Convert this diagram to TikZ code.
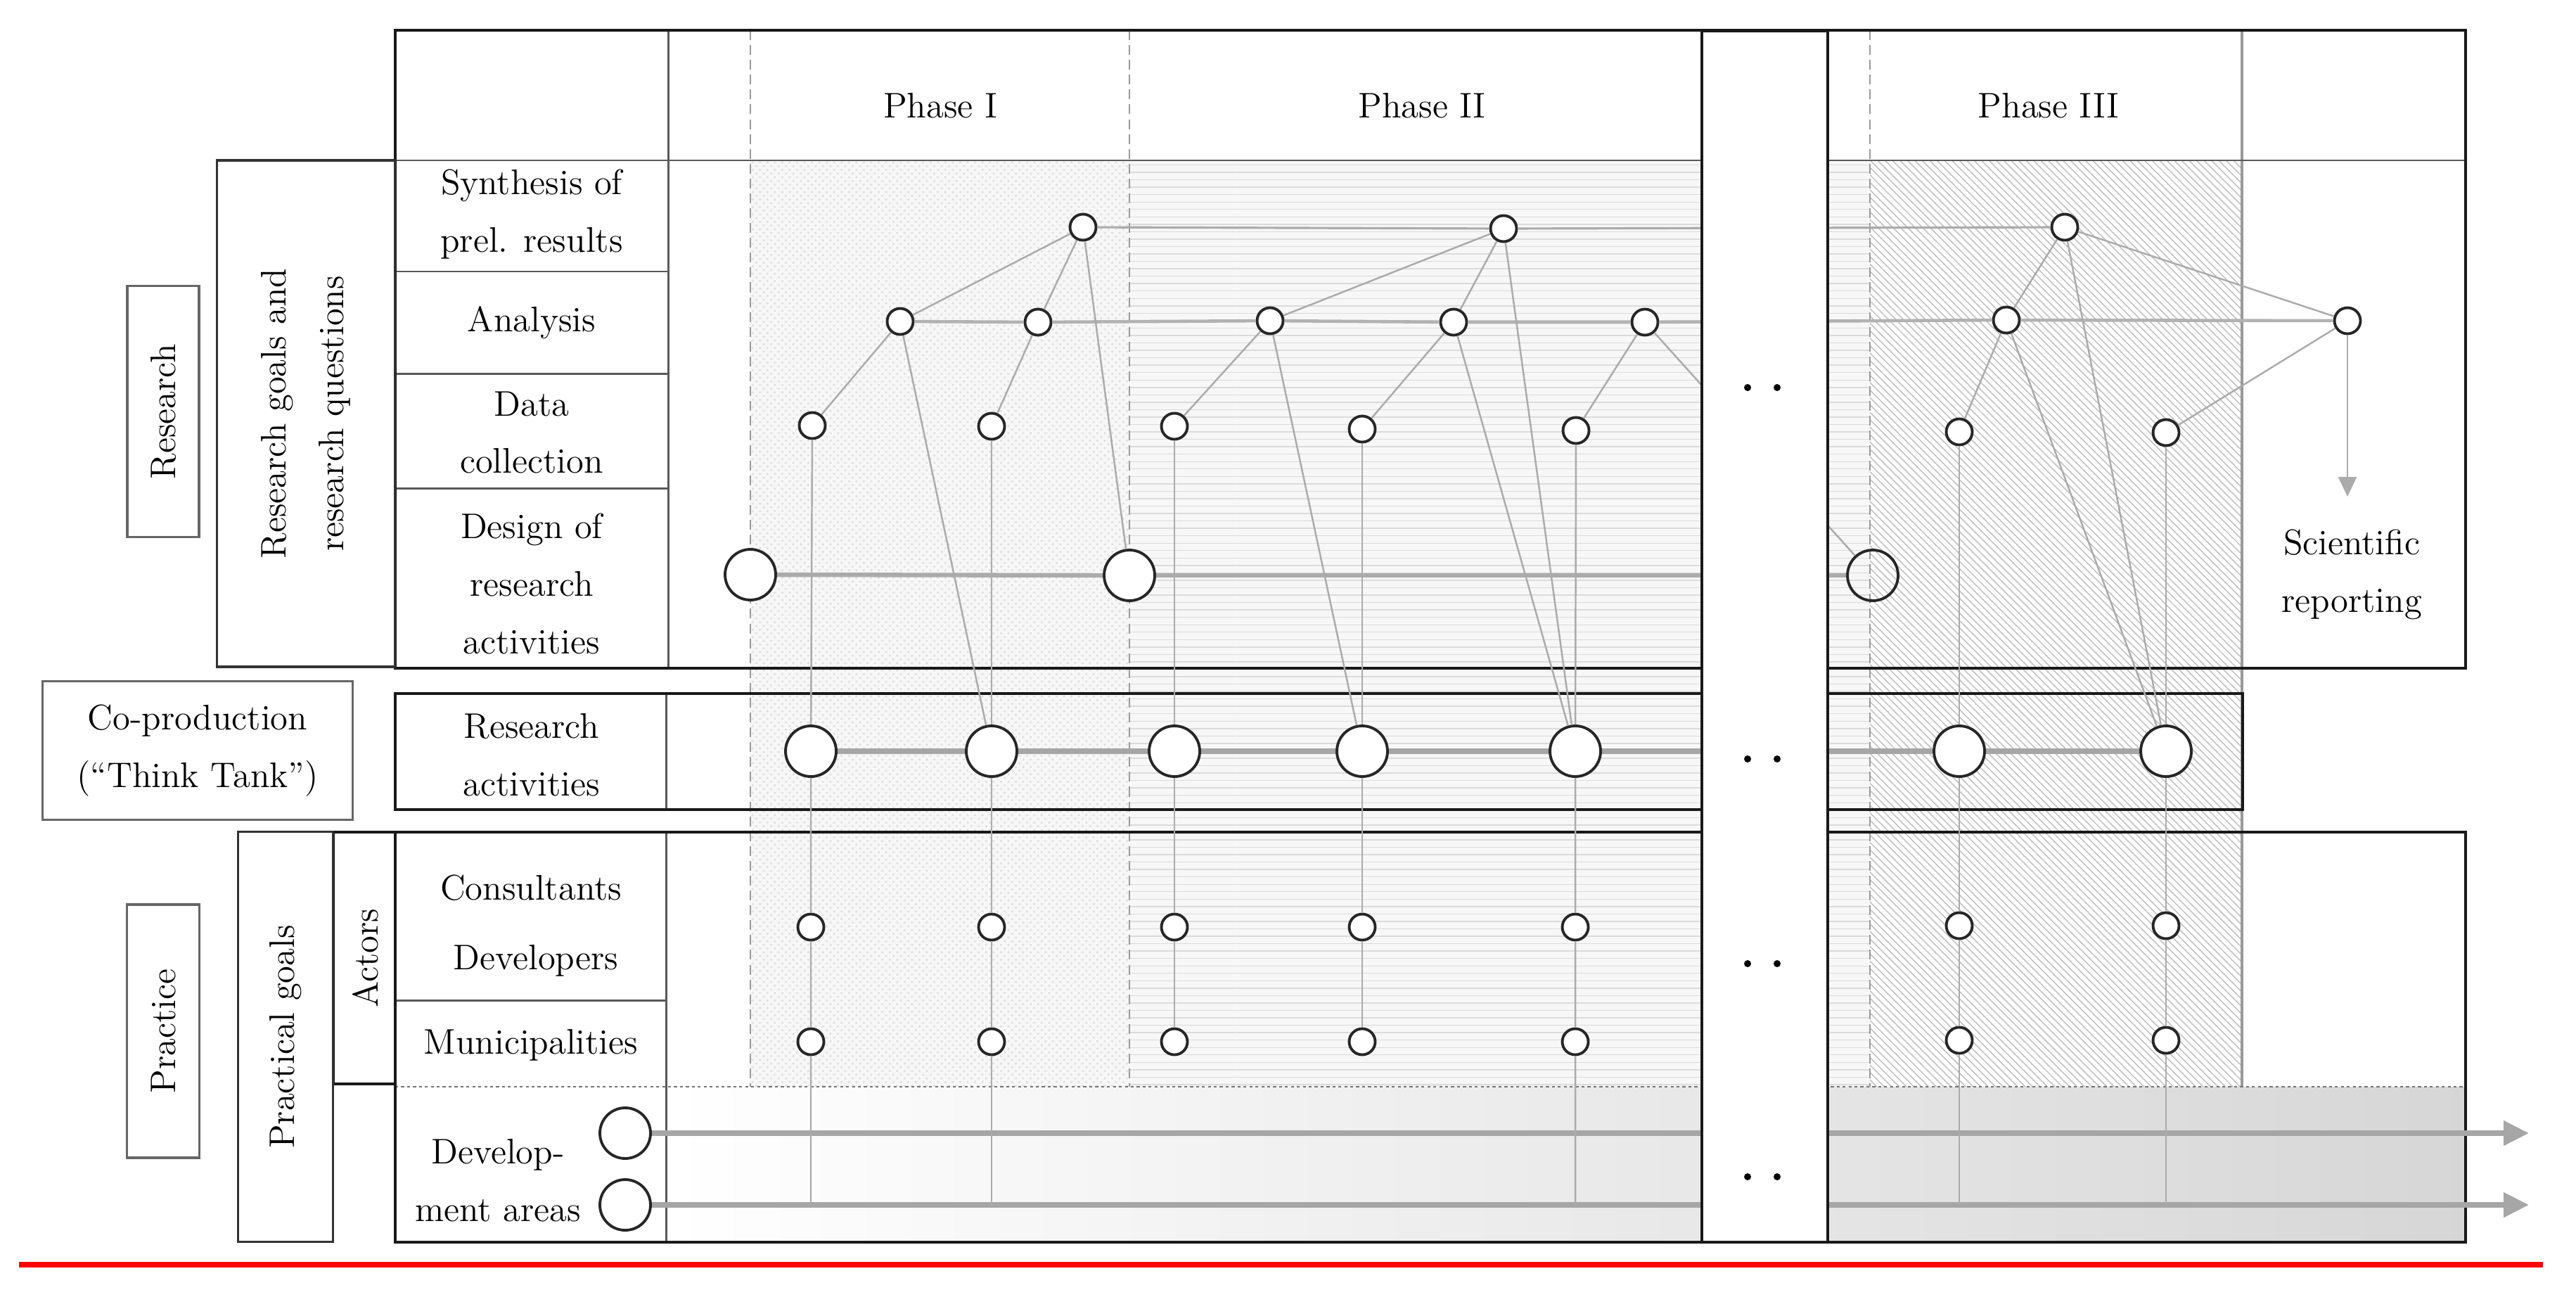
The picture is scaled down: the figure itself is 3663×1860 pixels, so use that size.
\documentclass[tikz,border=0pt]{standalone}
\usetikzlibrary{patterns,arrows.meta}

\begin{document}
\begin{tikzpicture}[x=0.1mm,y=-0.1mm,
    txt/.style={align=center,font=\fontsize{14.4}{23.3}\selectfont},
    box/.style={txt,draw=black!60,line width=0.9pt,inner sep=0pt},
    frame/.style={draw=black!90,line width=1.15pt},
    cell/.style={draw=black!65,line width=0.85pt},
    phase/.style={draw=black!40,line width=0.8pt,dash pattern=on 4pt off 2pt},
    sml/.style={shape=circle,draw=black!85,line width=1.1pt,fill=white,minimum size=3.7mm,inner sep=0pt},
    big/.style={shape=circle,draw=black!85,line width=1.1pt,fill=white,minimum size=7.2mm,inner sep=0pt},
    dot/.style={shape=circle,fill=black,minimum size=1mm,inner sep=0pt},
    lnk/.style={draw=black!33,line width=0.7pt},
    flow/.style={draw=black!35,line width=2.2pt}]

    \useasboundingbox (0,0) rectangle (3663,1860);

    %fondi delle fasi
    \fill[black!3] (1067,228) rectangle (2659,1545);
    \path[pattern=crosshatch dots,pattern color=black!13] (1067,228) rectangle (1606,1545);
    \path[pattern=horizontal lines,pattern color=black!14] (1606,228) rectangle (2659,1545);
    \path[pattern=north west lines,pattern color=black!26] (2659,228) rectangle (3188,1545);
    \shade[left color=white,right color=black!16] (950,1545) rectangle (3506,1766);

    \draw[phase] (1067,43) -- (1067,1545);
    \draw[phase] (1606,43) -- (1606,1545);
    \draw[phase] (2659,43) -- (2659,1545);
    \draw[draw=black!40,line width=0.9pt] (3188,43) -- (3188,1545);

    %tabella
    \draw[cell] (562,228) -- (3506,228);
    \draw[cell] (950,43) -- (950,950);
    \draw[cell] (562,386) -- (950,386);
    \draw[cell] (562,531) -- (950,531);
    \draw[cell] (562,694) -- (950,694);
    \draw[cell] (947,986) -- (947,1151);
    \draw[cell] (947,1183) -- (947,1766);
    \draw[cell] (562,1422) -- (947,1422);
    \draw[draw=black!55,line width=0.8pt,dash pattern=on 1.2pt off 1.2pt] (562,1545) -- (3506,1545);
    \draw[frame] (562,43) rectangle (3506,950);
    \draw[frame] (562,986) rectangle (3189,1151);
    \draw[frame] (562,1183) rectangle (3506,1766);
    \draw[frame] (474,1183) rectangle (562,1541);

    \node[box,rotate=90,minimum width=3.57cm,minimum height=1.02cm] (research) at (232,585) {Research};
    \node[box,rotate=90,draw=black!80,line width=1.1pt,minimum width=7.2cm,minimum height=2.53cm] (goals) at (435,588) {Research goals and\\research questions};
    \node[box,minimum width=4.41cm,minimum height=1.97cm] (coprod) at (281,1067) {Co-production\\(\textquotedblleft Think Tank\textquotedblright)};
    \node[box,rotate=90,minimum width=3.6cm,minimum height=1.03cm] (practice) at (232,1466) {Practice};
    \node[box,rotate=90,draw=black!80,line width=1.1pt,minimum width=5.83cm,minimum height=1.35cm] (pgoals) at (406,1474) {Practical goals};
    \node[txt,rotate=90] (actors) at (520,1362) {Actors};

    \node[txt] (ph1) at (1337,150) {Phase I};
    \node[txt] (ph2) at (2022,150) {Phase II};
    \node[txt] (ph3) at (2913,150) {Phase III};
    \node[txt] (syn) at (756,305) {Synthesis of\\prel. results};
    \node[txt] (ana) at (756,459) {Analysis};
    \node[txt] (dat) at (756,615) {Data\\collection};
    \node[txt] (des) at (756,830) {Design of\\research\\activities};
    \node[txt] (ract) at (756,1073) {Research\\activities};
    \node[txt] (cons) at (755,1262) {Consultants};
    \node[txt] (devs) at (762,1366) {Developers};
    \node[txt] (muni) at (755,1486) {Municipalities};
    \node[txt] (darea) at (708,1678) {Develop-\\ment areas};
    \node[txt] (sci) at (3344,817) {Scientific\\reporting};

    %nodi
    \node[sml] (s1) at (1540,323) {};
    \node[sml] (s2) at (2138,325) {};
    \node[sml] (s3) at (2936,323) {};

    \node[sml] (a1) at (1280,457) {};
    \node[sml] (a2) at (1476,458) {};
    \node[sml] (a3) at (1806,456) {};
    \node[sml] (a4) at (2067,458) {};
    \node[sml] (a5) at (2339,458) {};
    \node[sml] (a6) at (2853,455) {};
    \node[sml] (a7) at (3338,456) {};

    \node[sml] (d1) at (1155,605) {};
    \node[sml] (d2) at (1410,606) {};
    \node[sml] (d3) at (1670,606) {};
    \node[sml] (d4) at (1937,610) {};
    \node[sml] (d5) at (2241,612) {};
    \node[sml] (d6) at (2786,614) {};
    \node[sml] (d7) at (3080,615) {};

    \node[big] (g1) at (1067,817) {};
    \node[big] (g2) at (1606,818) {};
    \node[big,fill=none] (g3) at (2663,818) {};

    \node[big] (r1) at (1153,1068) {};
    \node[big] (r2) at (1410,1068) {};
    \node[big] (r3) at (1670,1068) {};
    \node[big] (r4) at (1937,1068) {};
    \node[big] (r5) at (2240,1068) {};
    \node[big] (r6) at (2786,1068) {};
    \node[big] (r7) at (3080,1068) {};

    \node[sml] (c1) at (1153,1318) {};
    \node[sml] (c2) at (1410,1318) {};
    \node[sml] (c3) at (1670,1318) {};
    \node[sml] (c4) at (1937,1318) {};
    \node[sml] (c5) at (2240,1318) {};
    \node[sml] (c6) at (2786,1316) {};
    \node[sml] (c7) at (3080,1316) {};

    \node[sml] (m1) at (1153,1481) {};
    \node[sml] (m2) at (1410,1481) {};
    \node[sml] (m3) at (1670,1481) {};
    \node[sml] (m4) at (1937,1481) {};
    \node[sml] (m5) at (2240,1481) {};
    \node[sml] (m6) at (2786,1479) {};
    \node[sml] (m7) at (3080,1479) {};

    \node[big] (e1) at (889,1611) {};
    \node[big] (e2) at (889,1713) {};

    \coordinate (b1) at (1153,1713);
    \coordinate (b2) at (1410,1713);
    \coordinate (b5) at (2240,1713);
    \coordinate (b6) at (2786,1713);
    \coordinate (b7) at (3080,1713);
    \coordinate (t1) at (3596,1611);
    \coordinate (t2) at (3596,1713);
    \coordinate (rep) at (3338,706);

    %Ora gli archi
    \draw[draw=black!33,line width=0.9pt] (s1) -- (s2) -- (s3);
    \draw[draw=black!30,line width=1.3pt] (a1) -- (a2) -- (a3) -- (a4) -- (a5) -- (a6) -- (a7);
    \draw[draw=black!33,line width=1.8pt] (g1) -- (g2) -- (g3);
    \draw[flow] (r1) -- (r2) -- (r3) -- (r4) -- (r5) -- (r6) -- (r7);
    \draw[flow,-{Triangle[length=3.6mm,width=3.4mm]}] (e1) -- (t1);
    \draw[flow,-{Triangle[length=3.6mm,width=3.4mm]}] (e2) -- (t2);

    \draw[lnk] (s1) edge (a1);
    \draw[lnk] (s1) edge (a2);
    \draw[lnk] (s1) edge (g2);
    \draw[lnk] (a1) edge (d1);
    \draw[lnk] (a1) edge (r2);
    \draw[lnk] (a2) edge (d2);

    \draw[lnk] (s2) edge (a3);
    \draw[lnk] (s2) edge (a4);
    \draw[lnk] (s2) edge (r5);
    \draw[lnk] (a3) edge (d3);
    \draw[lnk] (a3) edge (r4);
    \draw[lnk] (a4) edge (d4);
    \draw[lnk] (a4) edge (r5);
    \draw[lnk] (a5) edge (d5);
    \draw[lnk] (a5) edge (g3);

    \draw[lnk] (s3) edge (a6);
    \draw[lnk] (s3) edge (a7);
    \draw[lnk] (s3) edge (r7);
    \draw[lnk] (a6) edge (d6);
    \draw[lnk] (a6) edge (r7);
    \draw[lnk] (a7) edge (d7);
    \draw[lnk,-{Triangle[length=2.8mm,width=2.6mm]}] (a7) -- (rep);

    %verticali
    \draw[lnk] (d1) -- (r1) -- (c1) -- (m1) -- (b1);
    \draw[lnk] (d2) -- (r2) -- (c2) -- (m2) -- (b2);
    \draw[lnk] (d3) -- (r3) -- (c3) -- (m3);
    \draw[lnk] (d4) -- (r4) -- (c4) -- (m4);
    \draw[lnk] (d5) -- (r5) -- (c5) -- (m5) -- (b5);
    \draw[lnk] (d6) -- (r6) -- (c6) -- (m6) -- (b6);
    \draw[lnk] (d7) -- (r7) -- (c7) -- (m7) -- (b7);

    %colonna dei puntini
    \node[frame,fill=white,minimum width=1.79cm,minimum height=17.22cm,inner sep=0pt] (gap) at (2509,905) {};
    \node[dot] (p1) at (2485,551) {};
    \node[dot] (p2) at (2527,551) {};
    \node[dot] (p3) at (2485,1079) {};
    \node[dot] (p4) at (2527,1079) {};
    \node[dot] (p5) at (2485,1370) {};
    \node[dot] (p6) at (2527,1370) {};
    \node[dot] (p7) at (2485,1673) {};
    \node[dot] (p8) at (2527,1673) {};

    \draw[red,line width=2.5pt] (27,1798) -- (3616,1798);

\end{tikzpicture}
\end{document}
